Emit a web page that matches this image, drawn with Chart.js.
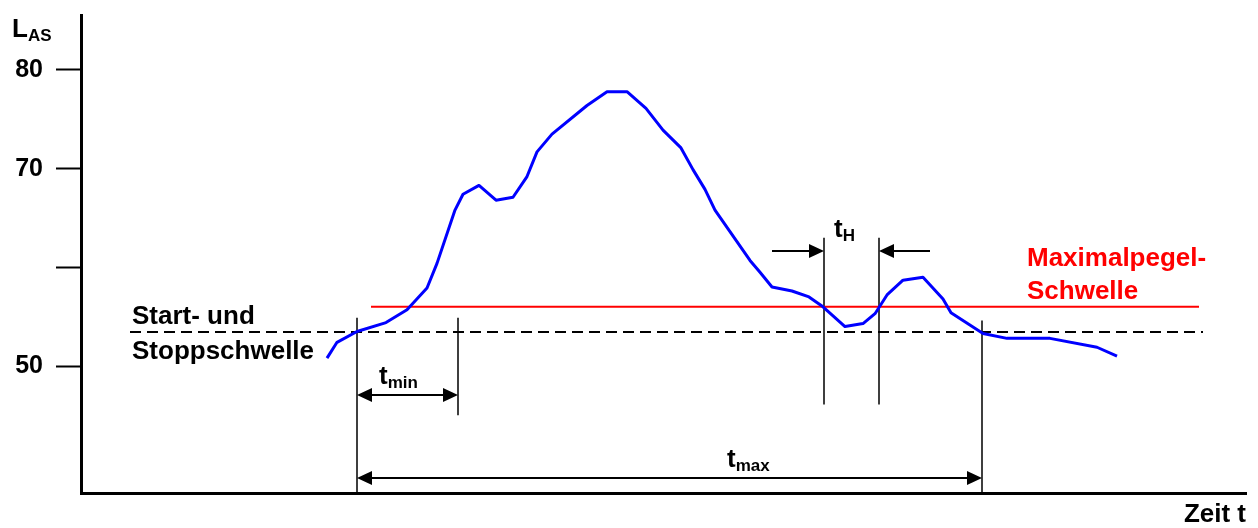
<!DOCTYPE html>
<html>
<head>
<meta charset="utf-8">
<script src="https://cdn.jsdelivr.net/npm/chart.js@4.4.0/dist/chart.umd.min.js"></script>
<style>
html, body { margin: 0; padding: 0; background: #fff; }
#wrap { width: 1258px; height: 528px; }
</style>
</head>
<body>
<div id="wrap"><canvas id="pegel"></canvas></div>
<script>
// Zeit (beliebige Einheiten) und Schallpegel L_AS in dB
const timeT = [24.6, 25.6, 27.6, 30.5, 32.6, 34.6, 35.6, 37.4, 38.2, 39.8, 41.5, 43.2, 44.6, 45.6, 47.1,
    50.6, 52.6, 54.6, 56.5, 58.2, 60.0, 61.2, 62.4, 63.4, 66.9, 67.9, 69.1, 71.1, 72.8, 74.2,
    76.4, 78.2, 79.4, 80.6, 82.2, 84.2, 86.2, 87.0, 90.2, 92.6, 96.9, 101.6, 103.6];
const levelLAS = [50.8, 52.4, 53.5, 54.4, 55.7, 57.9, 60.4, 65.8, 67.4, 68.3, 66.8, 67.1, 69.2, 71.7, 73.5,
    76.4, 77.8, 77.8, 76.1, 73.9, 72.1, 69.9, 67.9, 65.8, 60.7, 59.5, 58.0, 57.6, 57.0, 56.0,
    54.0, 54.3, 55.3, 57.2, 58.7, 59.0, 56.8, 55.4, 53.3, 52.8, 52.8, 51.9, 51.0];

const yTicks = [50, 60, 70, 80];
const yTickLabels = ['50', '', '70', '80'];
const yRange = [37.13, 85.57];
const xRange = [0, 116.5];

const maxThreshold = 56.0;
const maxThresholdFromTo = [29.0, 111.8];
const startStopThreshold = 53.45;
const startStopFromTo = [4.9, 112.2];

// senkrechte Markierungen
const markerTimes = [27.6, 37.7, 74.3, 79.8, 90.1];
const markerTops = [54.9, 54.9, 63.0, 63.0, 54.6];
const markerBottoms = [37.13, 45.0, 46.1, 46.1, 37.13];

// Pfeile
const tMinSpan = [27.6, 37.7];
const tMinLevel = 47.06;
const tMaxSpan = [27.6, 90.1];
const tMaxLevel = 38.65;
const tHSpan = [74.3, 79.8];
const tHTails = [69.1, 84.9];
const tHLevel = 61.65;

const FONT = '"Liberation Sans", Arial, sans-serif';

const markerData = [];
markerTimes.forEach((t, i) => {
    markerData.push({x: t, y: markerTops[i]}, {x: t, y: markerBottoms[i]}, {x: t, y: null});
});

function head(ctx, px, py, dir) {
    ctx.beginPath();
    ctx.moveTo(px, py);
    ctx.lineTo(px - dir * 15, py - 7);
    ctx.lineTo(px - dir * 15, py + 7);
    ctx.closePath();
    ctx.fill();
}

function shaft(ctx, x1, x2, py) {
    ctx.beginPath();
    ctx.moveTo(x1, py);
    ctx.lineTo(x2, py);
    ctx.stroke();
}

function subText(ctx, main, sub, x, y, color) {
    ctx.fillStyle = color;
    ctx.font = 'bold 26px ' + FONT;
    ctx.fillText(main, x, y);
    const w = ctx.measureText(main).width;
    ctx.font = 'bold 17px ' + FONT;
    ctx.fillText(sub, x + w, y + 4);
}

const annotations = {
    id: 'annotations',
    afterDatasetsDraw(chart) {
        const ctx = chart.ctx;
        const xs = chart.scales.x, ys = chart.scales.y;
        ctx.save();
        ctx.strokeStyle = '#000';
        ctx.fillStyle = '#000';
        ctx.lineWidth = 2;

        // t_min
        let a = xs.getPixelForValue(tMinSpan[0]), b = xs.getPixelForValue(tMinSpan[1]), py = ys.getPixelForValue(tMinLevel);
        shaft(ctx, a + 10, b - 10, py);
        head(ctx, a, py, -1);
        head(ctx, b, py, 1);

        // t_max
        a = xs.getPixelForValue(tMaxSpan[0]); b = xs.getPixelForValue(tMaxSpan[1]); py = ys.getPixelForValue(tMaxLevel);
        shaft(ctx, a + 10, b - 10, py);
        head(ctx, a, py, -1);
        head(ctx, b, py, 1);

        // t_H
        a = xs.getPixelForValue(tHSpan[0]); b = xs.getPixelForValue(tHSpan[1]); py = ys.getPixelForValue(tHLevel);
        shaft(ctx, xs.getPixelForValue(tHTails[0]), a - 10, py);
        head(ctx, a, py, 1);
        shaft(ctx, xs.getPixelForValue(tHTails[1]), b + 10, py);
        head(ctx, b, py, -1);

        ctx.textBaseline = 'alphabetic';
        ctx.textAlign = 'left';
        subText(ctx, 'L', 'AS', 12, 37, '#000');
        subText(ctx, 't', 'min', 379, 384, '#000');
        subText(ctx, 't', 'H', 834, 237, '#000');
        subText(ctx, 't', 'max', 727, 467, '#000');

        ctx.font = 'bold 26px ' + FONT;
        ctx.fillStyle = '#000';
        ctx.fillText('Start- und', 132, 324);
        ctx.fillText('Stoppschwelle', 132, 359);
        ctx.fillStyle = '#ff0000';
        ctx.fillText('Maximalpegel-', 1027, 266);
        ctx.fillText('Schwelle', 1027, 299);
        ctx.fillStyle = '#000';
        ctx.textAlign = 'right';
        ctx.fillText('Zeit t', 1246, 522);
        ctx.restore();
    }
};

const pegelCanvas = document.getElementById('pegel');
const pegelChart = new Chart(pegelCanvas, {
    type: 'line',
    data: {
        datasets: [{
            label: 'L_AS',
            data: timeT.map((t, i) => ({x: t, y: levelLAS[i]})),
            borderColor: '#0000ff',
            borderWidth: 3,
            borderJoinStyle: 'round',
            pointRadius: 0,
            tension: 0,
        }, {
            label: 'Maximalpegel-Schwelle',
            data: maxThresholdFromTo.map(t => ({x: t, y: maxThreshold})),
            borderColor: '#ff0000',
            borderWidth: 2,
            pointRadius: 0,
        }, {
            label: 'Start- und Stoppschwelle',
            data: startStopFromTo.map(t => ({x: t, y: startStopThreshold})),
            borderColor: '#000',
            borderWidth: 2,
            borderDash: [11, 6],
            pointRadius: 0,
        }, {
            label: 'Markierungen',
            data: markerData,
            borderColor: '#000',
            borderWidth: 1.5,
            pointRadius: 0,
            spanGaps: false,
        }]
    },
    options: {
        responsive: true,
        maintainAspectRatio: false,
        animation: false,
        layout: {
            padding: {left: 0, top: 15, right: 12, bottom: 35}
        },
        plugins: {
            legend: {display: false},
            tooltip: {enabled: false}
        },
        scales: {
            x: {
                type: 'linear',
                min: xRange[0],
                max: xRange[1],
                grid: {display: false},
                ticks: {display: false},
                border: {color: '#000', width: 3},
                afterFit(s) {
                    s.height = 0;
                    s.paddingLeft = 0;
                    s.paddingRight = 0;
                }
            },
            y: {
                min: yRange[0],
                max: yRange[1],
                afterBuildTicks(s) {
                    s.ticks = yTicks.map(v => ({value: v}));
                },
                ticks: {
                    color: '#000',
                    padding: 13,
                    font: {family: FONT, size: 25, weight: 'bold'},
                    callback: (v) => yTickLabels[yTicks.indexOf(v)]
                },
                grid: {
                    drawOnChartArea: false,
                    drawTicks: true,
                    tickLength: 25,
                    tickColor: '#000',
                    tickWidth: 2,
                    color: '#000'
                },
                border: {color: '#000', width: 3},
                afterFit(s) {
                    s.width = 81;
                    s.paddingTop = 0;
                    s.paddingBottom = 0;
                }
            }
        }
    },
    plugins: [annotations]
});
</script>
</body>
</html>
